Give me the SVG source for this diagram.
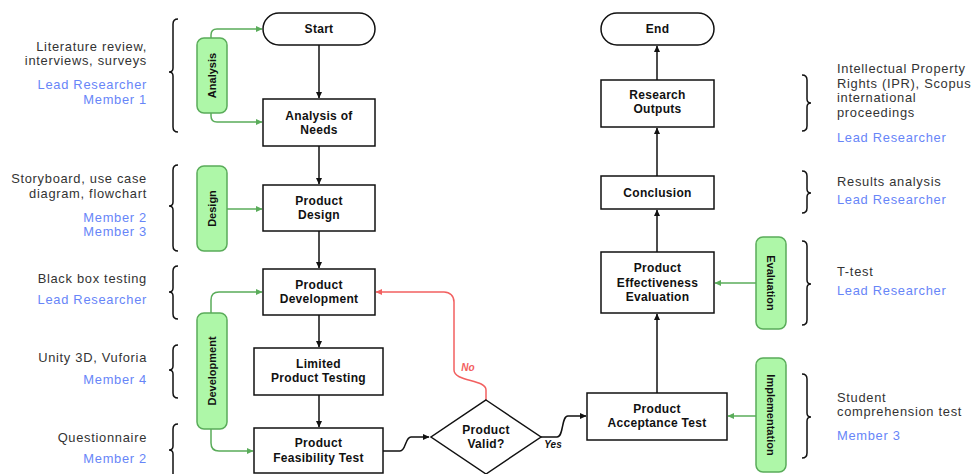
<svg xmlns="http://www.w3.org/2000/svg" width="974" height="474" viewBox="0 0 974 474">
<defs>
<marker id="ab" markerWidth="7" markerHeight="7" refX="6" refY="3.5" orient="auto" markerUnits="userSpaceOnUse"><path d="M0,0.5 L6.5,3.5 L0,6.5 Z" fill="#111"/></marker>
<marker id="ag" markerWidth="7" markerHeight="7" refX="6" refY="3.5" orient="auto" markerUnits="userSpaceOnUse"><path d="M0,0.5 L6.5,3.5 L0,6.5 Z" fill="#5aac5a"/></marker>
<marker id="ar" markerWidth="7" markerHeight="7" refX="6" refY="3.5" orient="auto" markerUnits="userSpaceOnUse"><path d="M0,0.5 L6.5,3.5 L0,6.5 Z" fill="#f26060"/></marker>
</defs>
<style>
.box{fill:#fff;stroke:#111;stroke-width:1.5}
.pill{fill:#aef7a8;stroke:#5aac5a;stroke-width:1.5}
.nt{font-family:"Liberation Sans",Arial,sans-serif;font-weight:bold;font-size:12px;letter-spacing:0.3px;fill:#111;text-anchor:middle}
.pt{font-family:"Liberation Sans",Arial,sans-serif;font-weight:bold;font-size:11px;fill:#111;text-anchor:middle}
.d{font-family:"Liberation Sans",Arial,sans-serif;font-size:12.9px;letter-spacing:0.7px;fill:#333}
.b{font-family:"Liberation Sans",Arial,sans-serif;font-size:12.9px;letter-spacing:0.7px;fill:#6785f8}
.l{text-anchor:end}
.bl{fill:none;stroke:#111;stroke-width:1.5}
.ln{fill:none;stroke:#111;stroke-width:1.5}
.gl{fill:none;stroke:#5aac5a;stroke-width:1.5}
.rl{fill:none;stroke:#f26060;stroke-width:1.5}
.lab{font-family:"Liberation Sans",Arial,sans-serif;font-weight:bold;font-style:italic;font-size:10px}
</style>

<g id="connectors">
<path class="ln" d="M319,45 V98" marker-end="url(#ab)"/>
<path class="ln" d="M319,146 V184" marker-end="url(#ab)"/>
<path class="ln" d="M319,231 V268" marker-end="url(#ab)"/>
<path class="ln" d="M319,315 V347" marker-end="url(#ab)"/>
<path class="ln" d="M319,395 V427" marker-end="url(#ab)"/>
<path class="ln" d="M383,451 H400 C406,451 405,437 411,437 H429" marker-end="url(#ab)"/>
<path class="ln" d="M541,437 H557 C564,437 561,416 568,416 H586" marker-end="url(#ab)"/>
<path class="rl" d="M486,400 V390 C486,379 454,382 454,370 V302 C454,296 450,292 444,292 H376" marker-end="url(#ar)"/>
<path class="ln" d="M657,393 V314" marker-end="url(#ab)"/>
<path class="ln" d="M657,252 V210" marker-end="url(#ab)"/>
<path class="ln" d="M657,176 V128" marker-end="url(#ab)"/>
<path class="ln" d="M657,80 V46" marker-end="url(#ab)"/>
<path class="gl" d="M211,38 V35 Q211,29 217,29 H262" marker-end="url(#ag)"/>
<path class="gl" d="M211,113 V116 Q211,122 217,122 H262" marker-end="url(#ag)"/>
<path class="gl" d="M227,209 H262" marker-end="url(#ag)"/>
<path class="gl" d="M211,313 V300 Q211,292 219,292 H262" marker-end="url(#ag)"/>
<path class="gl" d="M211,429 V443 Q211,451 219,451 H253" marker-end="url(#ag)"/>
<path class="gl" d="M756,283 H715" marker-end="url(#ag)"/>
<path class="gl" d="M756,416 H728" marker-end="url(#ag)"/>
<text class="lab" x="468" y="371" text-anchor="middle" fill="#f26060">No</text>
<text class="lab" x="553" y="448" text-anchor="middle" fill="#111">Yes</text>
</g>

<g id="start"><rect class="box" x="263" y="13" width="112" height="32" rx="16"/><text class="nt" x="319" y="33">Start</text></g>
<g id="analysis-needs"><rect class="box" x="263" y="99" width="112" height="47"/><text class="nt" x="319" y="120">Analysis of</text><text class="nt" x="319" y="134">Needs</text></g>
<g id="product-design"><rect class="box" x="263" y="185" width="112" height="46"/><text class="nt" x="319" y="205">Product</text><text class="nt" x="319" y="219">Design</text></g>
<g id="product-development"><rect class="box" x="263" y="269" width="112" height="46"/><text class="nt" x="319" y="289">Product</text><text class="nt" x="319" y="303">Development</text></g>
<g id="limited-testing"><rect class="box" x="254" y="348" width="129" height="47"/><text class="nt" x="318.5" y="368">Limited</text><text class="nt" x="318.5" y="382">Product Testing</text></g>
<g id="feasibility-test"><rect class="box" x="254" y="428" width="129" height="45"/><text class="nt" x="318.5" y="447">Product</text><text class="nt" x="318.5" y="462">Feasibility Test</text></g>
<g id="product-valid"><path class="box" d="M486,400 L541,437 L486,474 L431,437 Z"/><text class="nt" x="486" y="434">Product</text><text class="nt" x="486" y="448">Valid?</text></g>
<g id="acceptance-test"><rect class="box" x="587" y="393" width="140" height="47"/><text class="nt" x="657" y="413">Product</text><text class="nt" x="657" y="427">Acceptance Test</text></g>
<g id="effectiveness-evaluation"><rect class="box" x="601" y="252" width="113" height="61"/><text class="nt" x="657.5" y="272">Product</text><text class="nt" x="657.5" y="287">Effectiveness</text><text class="nt" x="657.5" y="301">Evaluation</text></g>
<g id="conclusion"><rect class="box" x="601" y="176" width="113" height="33"/><text class="nt" x="657.5" y="197">Conclusion</text></g>
<g id="research-outputs"><rect class="box" x="601" y="80" width="113" height="47"/><text class="nt" x="657.5" y="99">Research</text><text class="nt" x="657.5" y="113">Outputs</text></g>
<g id="end"><rect class="box" x="601" y="13" width="113" height="32" rx="16"/><text class="nt" x="657.5" y="33">End</text></g>

<g id="pill-analysis"><rect class="pill" x="197" y="38" width="30" height="75" rx="7"/><text class="pt" transform="translate(216,75.5) rotate(-90)">Analysis</text></g>
<g id="pill-design"><rect class="pill" x="197" y="166" width="30" height="85" rx="7"/><text class="pt" transform="translate(216,208.5) rotate(-90)">Design</text></g>
<g id="pill-development"><rect class="pill" x="197" y="313" width="30" height="116" rx="7"/><text class="pt" transform="translate(216,371) rotate(-90)">Development</text></g>
<g id="pill-evaluation"><rect class="pill" x="756" y="237" width="30" height="92" rx="7"/><text class="pt" transform="translate(767,283) rotate(90)">Evaluation</text></g>
<g id="pill-implementation"><rect class="pill" x="756" y="358" width="30" height="114" rx="7"/><text class="pt" transform="translate(767,415) rotate(90)">Implementation</text></g>

<g id="braces">
<path class="bl" d="M178,19 Q173,19 173,24 V68 Q173,72 169,72 Q173,72 173,76 V127 Q173,132 178,132"/>
<path class="bl" d="M178,165 Q173,165 173,170 V202 Q173,206 169,206 Q173,206 173,210 V246 Q173,251 178,251"/>
<path class="bl" d="M178,266 Q173,266 173,271 V288 Q173,292 169,292 Q173,292 173,296 V314 Q173,319 178,319"/>
<path class="bl" d="M178,345 Q173,345 173,350 V366 Q173,370 169,370 Q173,370 173,374 V393 Q173,398 178,398"/>
<path class="bl" d="M178,424 Q173,424 173,429 V446 Q173,450 169,450 Q173,450 173,454 V480"/>
<path class="bl" d="M802,75 Q807,75 807,80 V99 Q807,103 811,103 Q807,103 807,107 V126 Q807,131 802,131"/>
<path class="bl" d="M802,171 Q807,171 807,176 V189 Q807,193 811,193 Q807,193 807,197 V208 Q807,213 802,213"/>
<path class="bl" d="M802,241 Q807,241 807,246 V280 Q807,284 811,284 Q807,284 807,288 V320 Q807,325 802,325"/>
<path class="bl" d="M802,374 Q807,374 807,379 V413 Q807,417 811,417 Q807,417 807,421 V453 Q807,458 802,458"/>
</g>

<g id="notes-left">
<text class="d l" x="147" y="50.5">Literature review,</text>
<text class="d l" x="147" y="65">interviews, surveys</text>
<text class="b l" x="147" y="89">Lead Researcher</text>
<text class="b l" x="147" y="103.5">Member 1</text>
<text class="d l" x="147" y="183">Storyboard, use case</text>
<text class="d l" x="147" y="197.5">diagram, flowchart</text>
<text class="b l" x="147" y="221.5">Member 2</text>
<text class="b l" x="147" y="236">Member 3</text>
<text class="d l" x="147" y="283">Black box testing</text>
<text class="b l" x="147" y="304">Lead Researcher</text>
<text class="d l" x="147" y="362">Unity 3D, Vuforia</text>
<text class="b l" x="147" y="384">Member 4</text>
<text class="d l" x="147" y="442">Questionnaire</text>
<text class="b l" x="147" y="463">Member 2</text>
</g>
<g id="notes-right">
<text class="d" x="837" y="73">Intellectual Property</text>
<text class="d" x="837" y="87.5">Rights (IPR), Scopus</text>
<text class="d" x="837" y="102">international</text>
<text class="d" x="837" y="116.5">proceedings</text>
<text class="b" x="837" y="142">Lead Researcher</text>
<text class="d" x="837" y="186">Results analysis</text>
<text class="b" x="837" y="204">Lead Researcher</text>
<text class="d" x="837" y="276">T-test</text>
<text class="b" x="837" y="295">Lead Researcher</text>
<text class="d" x="837" y="401.5">Student</text>
<text class="d" x="837" y="416">comprehension test</text>
<text class="b" x="837" y="440">Member 3</text>
</g>
</svg>
